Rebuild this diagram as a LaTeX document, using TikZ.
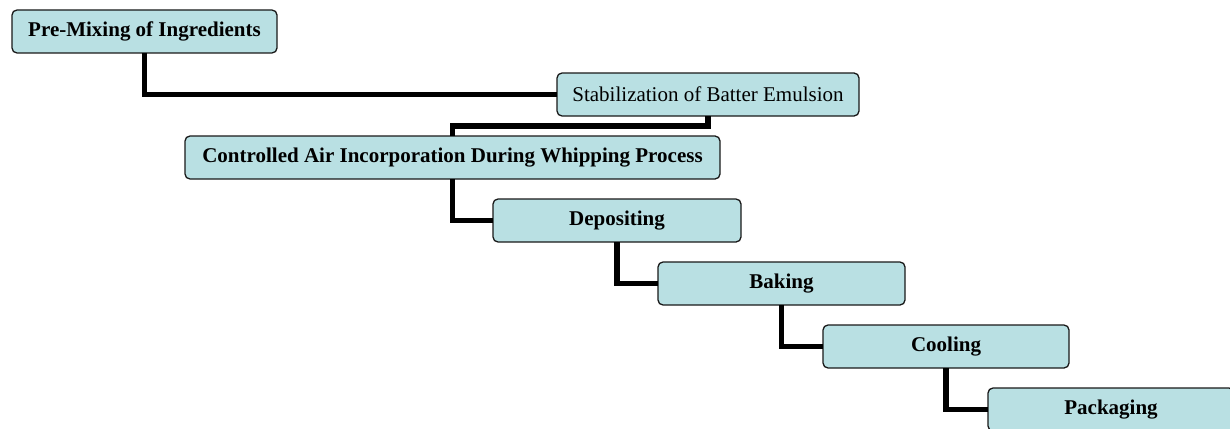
\documentclass[tikz,border=0pt]{standalone}
\usepackage{fontspec}
\setmainfont{Liberation Serif}
\definecolor{boxfill}{HTML}{B9E0E3}
\begin{document}
\begin{tikzpicture}[x=1pt,y=-1pt,
  box/.style={draw=black!90, line width=1.3pt, rounded corners=5pt, fill=boxfill,
    minimum height=43pt, anchor=north west, inner sep=0pt, outer sep=0pt,
    font=\bfseries\fontsize{21}{25}\selectfont},
  plain/.style={font=\fontsize{21}{25}\selectfont},
  conn/.style={line width=5.5pt, draw=black}]
\useasboundingbox (0,0) rectangle (1230,428);
\clip (0,0) rectangle (1230,428);
\node[box, minimum width=265pt] (b1) at (12,10) {Pre-Mixing of Ingredients};
\node[box, plain, minimum width=302pt] (b2) at (557,73) {Stabilization of Batter Emulsion};
\node[box, minimum width=535pt] (b3) at (185,136) {Controlled Air Incorporation During Whipping Process};
\node[box, minimum width=248pt] (b4) at (493,199) {Depositing};
\node[box, minimum width=247pt] (b5) at (658,262) {Baking};
\node[box, minimum width=246pt] (b6) at (823,325) {Cooling};
\node[box, minimum width=246pt] (b7) at (988,388) {Packaging};
\draw[conn] (b1.south) |- (b2.west);
\draw[conn] (b2.south) -- ++(0,10) -| (b3.north);
\draw[conn] (b3.south) |- (b4.west);
\draw[conn] (b4.south) |- (b5.west);
\draw[conn] (b5.south) |- (b6.west);
\draw[conn] (b6.south) |- (b7.west);
\end{tikzpicture}
\end{document}
